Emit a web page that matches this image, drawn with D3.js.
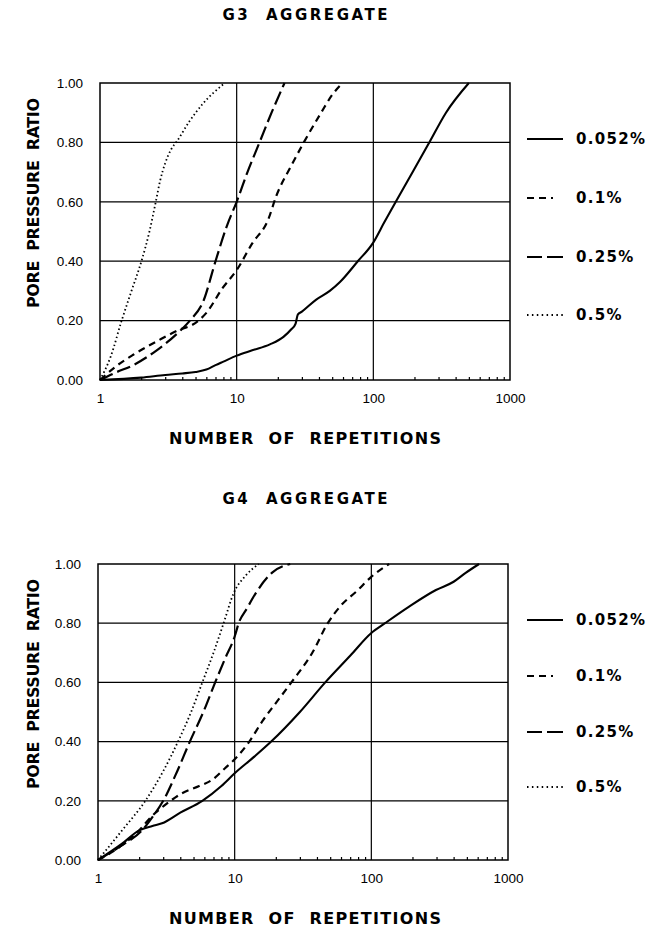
<!DOCTYPE html>
<html><head><meta charset="utf-8">
<script src="https://cdn.jsdelivr.net/npm/d3@7"></script>
<style>
html,body{margin:0;padding:0;background:#fff;}
svg{display:block;}
text{font-family:"Liberation Sans",Arial,sans-serif;fill:#000;}
.bold{font-family:"DejaVu Sans",sans-serif;font-weight:bold;}
</style></head>
<body><svg id="c" width="667" height="931"></svg>
<script>
// ---------- data ----------
const seriesNames = ["0.052%", "0.1%", "0.25%", "0.5%"];
const xTickValues = [1, 10, 100, 1000];
const yTickValues = [0, 0.2, 0.4, 0.6, 0.8, 1.0];
const minorTickValues = [2,3,4,5,6,7,8,9,20,30,40,50,60,70,80,90,200,300,400,500,600,700,800,900];
const chartTitles = ["G3  AGGREGATE", "G4  AGGREGATE"];
const xAxisTitle = "NUMBER  OF  REPETITIONS";
const yAxisTitle = "PORE  PRESSURE  RATIO";

// G3 aggregate: [repetitions, pore pressure ratio]
const g3_052 = [[1,0],[2,0.008],[3,0.017],[4,0.022],[5,0.027],[6,0.035],[7,0.05],[8,0.062],[10,0.082],[13,0.1],[17.5,0.12],[22,0.145],[25,0.17],[27,0.19],[28,0.22],[30,0.23],[38,0.27],[48,0.3],[57,0.33],[77,0.4],[99,0.46],[120,0.53],[146,0.6],[194,0.7],[257,0.8],[340,0.9],[500,1.0]];
const g3_01  = [[1,0],[1.3,0.045],[1.75,0.085],[2.6,0.13],[3.84,0.17],[4.75,0.186],[6,0.226],[7.9,0.31],[10,0.37],[13,0.46],[17,0.54],[19.5,0.62],[25,0.72],[31,0.8],[41.5,0.9],[50,0.96],[59.5,1.0]];
const g3_025 = [[1,0],[1.3,0.025],[1.75,0.05],[2.6,0.1],[3.84,0.165],[4.55,0.2],[5.7,0.265],[7.0,0.4],[8.5,0.52],[10,0.6],[12,0.7],[14.7,0.8],[18,0.9],[22.4,1.0]];
const g3_05  = [[1,0],[1.2,0.08],[1.44,0.2],[1.7,0.3],[2.01,0.4],[2.3,0.5],[2.56,0.6],[2.75,0.67],[3.0,0.73],[3.3,0.775],[3.67,0.805],[4.5,0.87],[5.65,0.93],[8.2,1.0]];

// G4 aggregate
const g4_052 = [[1,0],[1.5,0.055],[2,0.1],[2.5,0.115],[2.94,0.124],[4,0.16],[5.8,0.2],[8,0.25],[10,0.293],[14,0.35],[18.5,0.4],[30,0.5],[46,0.6],[70,0.69],[100,0.767],[126,0.8],[189,0.856],[297,0.912],[400,0.94],[490,0.97],[614,1.0]];
const g4_01  = [[1,0],[1.5,0.05],[2,0.1],[2.5,0.15],[3.1,0.186],[4.1,0.225],[5.5,0.25],[6.8,0.27],[8.5,0.31],[10,0.34],[12.8,0.4],[16,0.47],[20,0.53],[26,0.6],[37,0.7],[48,0.8],[60,0.86],[79,0.91],[99,0.955],[135,1.0]];
const g4_025 = [[1,0],[1.5,0.05],[2.1,0.1],[2.5,0.145],[3.0,0.2],[3.8,0.3],[4.7,0.4],[5.9,0.5],[7.2,0.6],[8.5,0.68],[10,0.755],[10.7,0.8],[12.3,0.85],[14.2,0.9],[18.7,0.97],[25.5,1.0]];
const g4_05  = [[1,0],[1.5,0.1],[2.22,0.2],[3,0.3],[3.85,0.4],[4.8,0.5],[5.8,0.6],[7,0.7],[8.3,0.8],[9.8,0.9],[12,0.96],[15,1.0]];

const styles = [
  {dash: null, width: 2.1, legendDash: null},
  {dash: "7,5", width: 2.2, legendDash: "7,5,7,5,2,10"},
  {dash: "14,5", width: 2.2, legendDash: "15,5,16,10"},
  {dash: "1.5,2.6", width: 1.8, legendDash: "1.5,3.4"}
];

const svg = d3.select("#c");

function drawChart(cfg) {
  const {left, right, top, bottom, title, titleY, series, legendYs} = cfg;
  const x = d3.scaleLog().domain([1, 1000]).range([left, right]);
  const y = d3.scaleLinear().domain([0, 1]).range([bottom, top]);
  const g = svg.append("g");

  // title
  g.append("text").attr("class", "bold").attr("x", 305).attr("y", titleY)
    .attr("text-anchor", "middle").attr("dominant-baseline", "central")
    .attr("font-size", 15)
    .attr("textLength", 165).attr("lengthAdjust", "spacing")
    .style("white-space", "pre").text(title);

  // grid
  g.append("g").selectAll("line").data([0.2,0.4,0.6,0.8]).join("line")
    .attr("x1", left).attr("x2", right).attr("y1", d => y(d)).attr("y2", d => y(d))
    .attr("stroke", "#000").attr("stroke-width", 1.2);
  g.append("g").selectAll("line").data([10,100]).join("line")
    .attr("x1", d => x(d)).attr("x2", d => x(d)).attr("y1", top).attr("y2", bottom)
    .attr("stroke", "#000").attr("stroke-width", 1.2);

  // frame
  g.append("rect").attr("x", left).attr("y", top).attr("width", right - left).attr("height", bottom - top)
    .attr("fill", "none").attr("stroke", "#000").attr("stroke-width", 1.5);

  // minor ticks (inside, along bottom)
  const minorAxis = d3.axisBottom(x).tickValues(minorTickValues).tickSize(-3).tickFormat("");
  const ma = g.append("g").attr("transform", `translate(0,${bottom})`).call(minorAxis);
  ma.select(".domain").remove();
  ma.selectAll("line").attr("stroke", "#000").attr("stroke-width", 1.2);

  // x tick labels
  const xa = g.append("g").attr("transform", `translate(0,${bottom})`)
    .call(d3.axisBottom(x).tickValues(xTickValues).tickSize(0).tickPadding(13).tickFormat(d3.format("d")));
  xa.select(".domain").remove();
  xa.selectAll("text").attr("font-size", 13.5).attr("font-family", "Liberation Sans, Arial, sans-serif").attr("fill", "#000");

  // y tick labels
  const ya = g.append("g").attr("transform", `translate(${left},0)`)
    .call(d3.axisLeft(y).tickValues(yTickValues).tickSize(0).tickPadding(17).tickFormat(d3.format(".2f")));
  ya.select(".domain").remove();
  ya.selectAll("text").attr("font-size", 13.5).attr("font-family", "Liberation Sans, Arial, sans-serif").attr("fill", "#000");

  // axis titles
  g.append("text").attr("class", "bold").attr("x", 305).attr("y", bottom + 58)
    .attr("text-anchor", "middle").attr("dominant-baseline", "central")
    .attr("font-size", 16)
    .attr("textLength", 272).attr("lengthAdjust", "spacing")
    .style("white-space", "pre").text(xAxisTitle);
  g.append("text").attr("class", "bold").attr("transform", `translate(33,${top + 120}) rotate(-90)`)
    .attr("text-anchor", "middle").attr("dominant-baseline", "central")
    .attr("font-size", 16)
    .attr("textLength", 210).attr("lengthAdjust", "spacing")
    .style("white-space", "pre").text(yAxisTitle);

  // curves
  const line = d3.line().x(d => x(d[0])).y(d => y(d[1])).curve(d3.curveMonotoneX);
  series.forEach((s, i) => {
    g.append("path").datum(s).attr("d", line)
      .attr("fill", "none").attr("stroke", "#000")
      .attr("stroke-width", styles[i].width)
      .attr("stroke-dasharray", styles[i].dash)
      .attr("stroke-linejoin", "round");
  });

  // legend
  const lg = g.append("g");
  seriesNames.forEach((name, i) => {
    const ly = legendYs[i];
    lg.append("line").attr("x1", 527).attr("x2", 563).attr("y1", ly).attr("y2", ly)
      .attr("stroke", "#000").attr("stroke-width", styles[i].width)
      .attr("stroke-dasharray", styles[i].legendDash);
    lg.append("text").attr("class", "bold").attr("x", 576).attr("y", ly).attr("dominant-baseline", "central")
      .attr("font-size", 15).attr("letter-spacing", 1.3).text(name);
  });
}

drawChart({left: 100, right: 510, top: 83, bottom: 380, title: chartTitles[0], titleY: 15,
  series: [g3_052, g3_01, g3_025, g3_05], legendYs: [139, 198, 257, 315]});
drawChart({left: 98, right: 508, top: 564, bottom: 860, title: chartTitles[1], titleY: 499,
  series: [g4_052, g4_01, g4_025, g4_05], legendYs: [620, 676, 732, 787]});
</script>
</body></html>
